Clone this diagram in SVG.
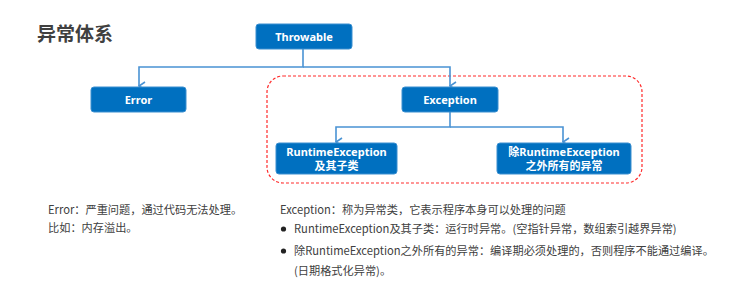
<svg xmlns="http://www.w3.org/2000/svg" width="733" height="297" viewBox="0 0 733 297">
  <style>
    .box { fill: #0070c0; stroke: #3a8fd0; stroke-width: 1; }
    .lbl { font-family: "Noto Sans", "Noto Sans CJK SC", sans-serif; font-size: 11px; font-weight: bold; fill: #ffffff; text-anchor: middle; }
    .wire { fill: none; stroke: #4a93d4; stroke-width: 1.6; }
    .note { font-family: "Noto Sans CJK SC", "Noto Sans", sans-serif; font-size: 11.2px; fill: #404040; }
  </style>
  <defs>
    <marker id="chev" viewBox="0 0 10 10" refX="5" refY="9" markerWidth="10" markerHeight="10" markerUnits="userSpaceOnUse" orient="auto-start-reverse">
      <path d="M1,3 L5,9 L9,3" fill="none" stroke="#4a93d4" stroke-width="1.6"/>
    </marker>
  </defs>
  <rect width="733" height="297" fill="#ffffff"/>

  <text x="37" y="41" font-family="Noto Sans CJK SC, sans-serif" font-size="19" font-weight="bold" fill="#404040">异常体系</text>

  <!-- dashed region around the Exception branch -->
  <rect x="267" y="76" width="375" height="107" rx="16" fill="none" stroke="#ff2a2a" stroke-width="1.2" stroke-dasharray="3,2"/>

  <g id="connectors">
    <path class="wire" d="M303,49 V67 H139 V86" marker-end="url(#chev)"/>
    <path class="wire" d="M303,67 H450 V86" marker-end="url(#chev)"/>
    <path class="wire" d="M450,112 V127 H336 V142" marker-end="url(#chev)"/>
    <path class="wire" d="M450,127 H563 V142" marker-end="url(#chev)"/>
  </g>

  <g id="throwable">
    <rect class="box" x="256" y="24" width="96" height="25" rx="3"/>
    <text class="lbl" x="304" y="40.5">Throwable</text>
  </g>
  <g id="error">
    <rect class="box" x="91" y="87" width="95" height="25" rx="3"/>
    <text class="lbl" x="138.5" y="103.5">Error</text>
  </g>
  <g id="exception">
    <rect class="box" x="402" y="87" width="96" height="25" rx="3"/>
    <text class="lbl" x="450" y="103.5">Exception</text>
  </g>
  <g id="runtime">
    <rect class="box" x="276" y="143" width="121" height="31" rx="3"/>
    <text class="lbl" x="336.5" y="156">RuntimeException</text>
    <text class="lbl" x="336.5" y="170">及其子类</text>
  </g>
  <g id="checked">
    <rect class="box" x="497" y="143" width="134" height="31" rx="3"/>
    <text class="lbl" x="564" y="156">除RuntimeException</text>
    <text class="lbl" x="564" y="170">之外所有的异常</text>
  </g>

  <text class="note" x="48" y="214">Error：严重问题，通过代码无法处理。</text>
  <text class="note" x="48" y="232">比如：内存溢出。</text>

  <text class="note" x="280" y="214">Exception：称为异常类，它表示程序本身可以处理的问题</text>
  <circle cx="283.5" cy="229" r="2.6" fill="#222"/>
  <text class="note" x="294" y="233">RuntimeException及其子类：运行时异常。(空指针异常，数组索引越界异常)</text>
  <circle cx="283.5" cy="251" r="2.6" fill="#222"/>
  <text class="note" x="294" y="255">除RuntimeException之外所有的异常：编译期必须处理的，否则程序不能通过编译。</text>
  <text class="note" x="294" y="275">(日期格式化异常)。</text>
</svg>
